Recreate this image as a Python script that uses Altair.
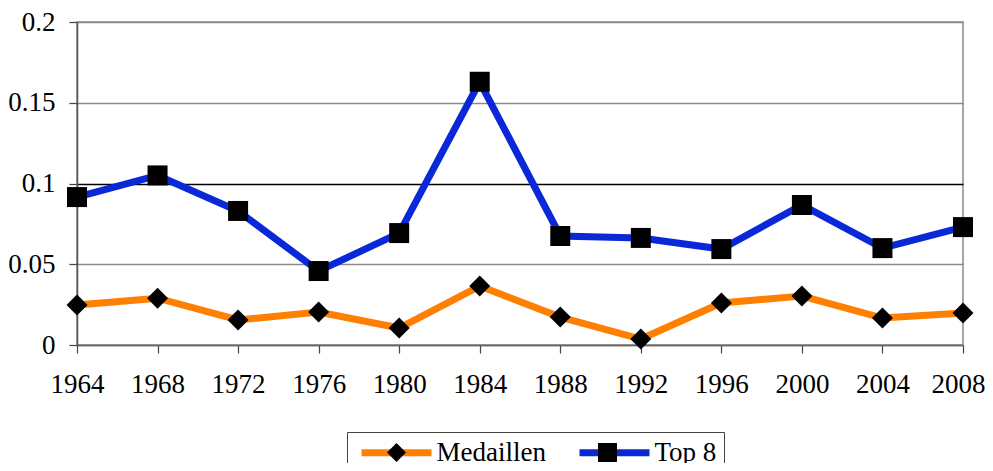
import altair as alt
import pandas as pd

years = [1964, 1968, 1972, 1976, 1980, 1984, 1988, 1992, 1996, 2000, 2004, 2008]
medaillen = [0.0248, 0.029, 0.0155, 0.0204, 0.0105, 0.0365, 0.0173, 0.0037, 0.026, 0.0303, 0.0167, 0.0198]
top8 = [0.0916, 0.105, 0.083, 0.0458, 0.0693, 0.163, 0.0675, 0.0663, 0.0594, 0.0867, 0.060, 0.073]
series_names = ["Medaillen", "Top 8"]
y_ticks = [0, 0.05, 0.1, 0.15, 0.2]

rows = []
for name, vals in zip(series_names, [medaillen, top8]):
    for yr, v in zip(years, vals):
        rows.append({"year": yr, "value": v, "series": name, "s2": name})
df = pd.DataFrame(rows)

FONT = "Liberation Serif"
FS = 27

# shared legend geometry so the two legends overlap exactly
LEG = dict(title=None, orient="none", legendX=270, legendY=410, direction="horizontal",
           symbolSize=361, symbolStrokeWidth=7, symbolOffset=29,
           labelFont=FONT, labelFontSize=FS, labelColor="black",
           labelOffset=26.5, columnPadding=19, padding=7)

x_enc = alt.X("year:Q", scale=alt.Scale(domain=[1964, 2008], nice=False, zero=False),
              axis=alt.Axis(values=years, format="d", title=None, grid=False,
                            tickSize=8, labelPadding=18, domainColor="#666",
                            tickColor="#444", domainWidth=1.5, tickWidth=1.2,
                            labelFlush=False, labelOverlap=False,
                            labelOffset={"condition": {"test": "datum.value === 2008", "value": -5}, "value": 0}))
y_enc = alt.Y("value:Q", scale=alt.Scale(domain=[0, 0.2], nice=False),
              axis=alt.Axis(values=y_ticks, format="~g", title=None,
                            tickSize=8, labelPadding=14, domainColor="#555",
                            tickColor="#444", domainWidth=1.5, tickWidth=1.2,
                            labelFlush=False,
                            gridColor={"condition": {"test": "datum.value === 0.1", "value": "#000000"}, "value": "#8a8a8a"},
                            gridWidth=1.5))

lines = alt.Chart(df).mark_line(strokeWidth=7).encode(
    x=x_enc, y=y_enc,
    color=alt.Color("series:N", scale=alt.Scale(range=["#FF7F00", "#0A28D8"]),
                    legend=alt.Legend(symbolType="M-3.684,0H3.684", strokeColor="#444", **LEG)),
)

points = alt.Chart(df).mark_point(filled=True, opacity=1, color="black").encode(
    x="year:Q", y="value:Q",
    shape=alt.Shape("s2:N", scale=alt.Scale(range=["diamond", "square"]),
                    legend=alt.Legend(symbolFillColor="black", symbolOpacity=1,
                                      labelOpacity=0, **LEG)),
    size=alt.Size("series:N", scale=alt.Scale(range=[440, 400]), legend=None),
)

chart = alt.layer(lines, points).properties(
    width=886, height=323,
    autosize=alt.AutoSizeParams(type="none"),
    padding={"left": 69, "top": 14, "right": 22, "bottom": 118},
).configure_view(stroke="#8a8a8a", strokeWidth=1.5).configure_axis(
    labelFont=FONT, labelFontSize=FS, labelColor="black"
)

chart.save("out.html", embed_options={"renderer": "svg", "actions": False})
